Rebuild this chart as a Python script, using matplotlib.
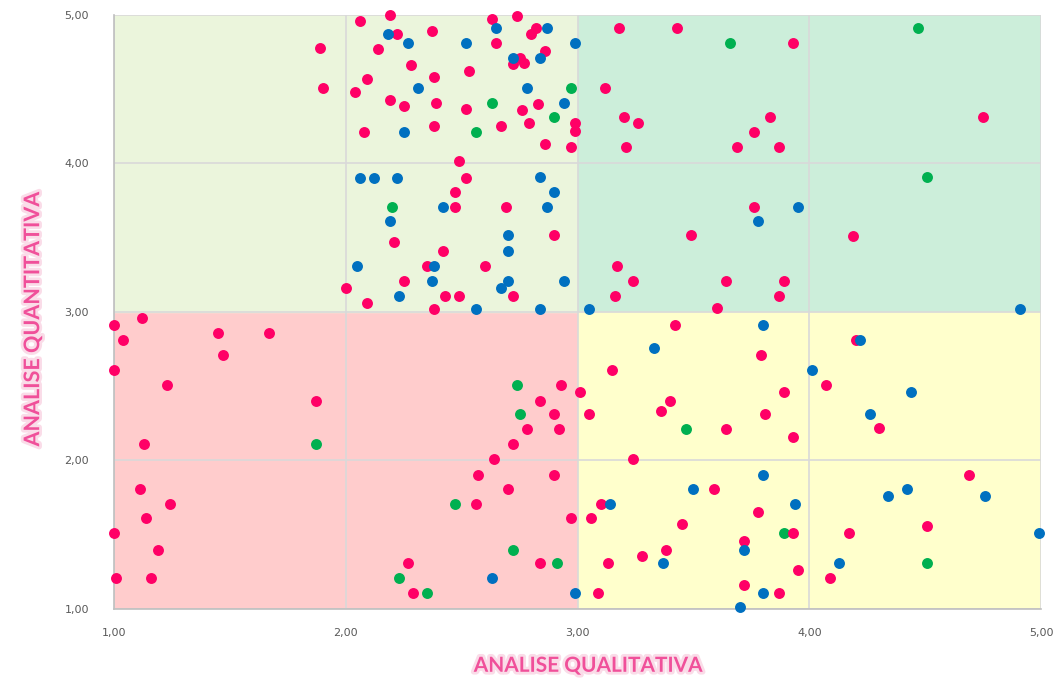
import matplotlib.pyplot as plt
import matplotlib.patheffects as pe
from matplotlib.patches import Rectangle
from matplotlib.ticker import FuncFormatter

pink_x = [1.89, 1.90, 2.06, 2.19, 2.22, 2.14, 2.28, 2.09, 2.04, 2.19, 2.25, 2.08,
          2.21, 2.25, 2.00, 2.09,
          1.00, 1.12, 1.04, 1.45, 1.67, 1.47, 1.00, 1.23, 1.87,
          1.13, 1.11, 1.24, 1.14, 1.00, 1.19, 1.01, 1.16, 2.27, 2.29,
          2.63, 2.74, 2.82, 2.80, 2.37, 2.65, 2.86, 2.75, 2.72, 2.77, 2.38, 2.53, 2.39, 2.52,
          2.76, 2.83, 2.38, 2.67, 2.79, 2.99, 2.99, 2.86, 2.97, 2.49, 2.52, 2.47, 2.47, 2.69,
          3.18, 3.43, 3.12, 3.20, 3.26, 3.21,
          3.93, 4.75, 3.83, 3.76, 3.69, 3.87, 3.76,
          4.19, 3.64, 3.89, 3.87, 3.60, 4.20, 3.79, 4.07, 3.89, 3.81,
          2.90, 2.42, 2.35, 2.60, 2.43, 2.49, 2.72, 2.38, 3.17, 3.24, 3.16, 3.49, 3.42, 3.15,
          2.93, 3.01, 2.84, 3.40, 3.36, 2.90, 3.05,
          2.78, 2.92, 3.64, 2.72, 2.64, 3.24, 2.57, 2.90, 2.70, 3.59, 2.56, 3.10, 2.97, 3.06,
          3.45, 3.28, 3.38, 2.84, 3.13, 3.09,
          4.30, 3.93, 4.69, 3.78, 4.51, 3.93, 4.17, 3.72, 3.95, 4.09, 3.72, 3.87]
pink_y = [4.78, 4.51, 4.96, 5.00, 4.87, 4.77, 4.66, 4.57, 4.48, 4.43, 4.39, 4.21,
          3.47, 3.21, 3.16, 3.06,
          2.91, 2.96, 2.81, 2.86, 2.86, 2.71, 2.61, 2.51, 2.40,
          2.11, 1.81, 1.71, 1.61, 1.51, 1.40, 1.21, 1.21, 1.31, 1.11,
          4.97, 4.99, 4.91, 4.87, 4.89, 4.81, 4.76, 4.71, 4.67, 4.68, 4.58, 4.62, 4.41, 4.37,
          4.36, 4.40, 4.25, 4.25, 4.27, 4.27, 4.22, 4.13, 4.11, 4.02, 3.90, 3.81, 3.71, 3.71,
          4.91, 4.91, 4.51, 4.31, 4.27, 4.11,
          4.81, 4.31, 4.31, 4.21, 4.11, 4.11, 3.71,
          3.51, 3.21, 3.21, 3.11, 3.03, 2.81, 2.71, 2.51, 2.46, 2.31,
          3.52, 3.41, 3.31, 3.31, 3.11, 3.11, 3.11, 3.02, 3.31, 3.21, 3.11, 3.52, 2.91, 2.61,
          2.51, 2.46, 2.40, 2.40, 2.33, 2.31, 2.31,
          2.21, 2.21, 2.21, 2.11, 2.01, 2.01, 1.90, 1.90, 1.81, 1.81, 1.71, 1.71, 1.61, 1.61,
          1.57, 1.36, 1.40, 1.31, 1.31, 1.11,
          2.22, 2.16, 1.90, 1.65, 1.56, 1.51, 1.51, 1.46, 1.26, 1.21, 1.16, 1.11]

blue_x = [2.18, 2.27, 2.31, 2.25, 2.06, 2.12, 2.22, 2.19, 2.05, 2.23,
          2.65, 2.87, 2.52, 2.99, 2.72, 2.84, 2.78, 2.94, 2.84, 2.90, 2.42, 2.87,
          3.95, 3.78, 4.91, 3.80, 4.22, 4.01, 4.44, 4.26,
          2.70, 2.70, 2.38, 2.37, 2.70, 2.94, 2.67, 2.56, 2.84, 3.05, 3.33,
          3.50, 3.14, 3.37, 2.63, 2.99,
          3.80, 4.42, 4.34, 4.76, 3.94, 4.99, 3.72, 4.13, 3.80, 3.70]
blue_y = [4.87, 4.81, 4.51, 4.21, 3.90, 3.90, 3.90, 3.61, 3.31, 3.11,
          4.91, 4.91, 4.81, 4.81, 4.71, 4.71, 4.51, 4.41, 3.91, 3.81, 3.71, 3.71,
          3.71, 3.61, 3.02, 2.91, 2.81, 2.61, 2.46, 2.31,
          3.52, 3.41, 3.31, 3.21, 3.21, 3.21, 3.16, 3.02, 3.02, 3.02, 2.76,
          1.81, 1.71, 1.31, 1.21, 1.11,
          1.90, 1.81, 1.76, 1.76, 1.71, 1.51, 1.40, 1.31, 1.11, 1.01]

green_x = [2.20, 2.97, 2.63, 2.90, 2.56, 3.66, 4.47, 4.51,
           1.87, 2.23, 2.74, 2.75, 3.47, 2.47, 2.72, 2.91, 2.35, 3.89, 4.51]
green_y = [3.71, 4.51, 4.41, 4.31, 4.21, 4.81, 4.91, 3.91,
           2.11, 1.21, 2.51, 2.31, 2.21, 1.71, 1.40, 1.31, 1.11, 1.51, 1.31]

ticks = [1, 2, 3, 4, 5]

fig = plt.figure(figsize=(10.54, 6.91), dpi=100)
ax = fig.add_axes([0.1082, 0.1187, 0.8795, 0.8596])

# quadrants
ax.add_patch(Rectangle((1, 1), 2, 2, color='#FFCCCC', zorder=0))
ax.add_patch(Rectangle((1, 3), 2, 2, color='#EBF5DC', zorder=0))
ax.add_patch(Rectangle((3, 3), 2, 2, color='#CCEEDA', zorder=0))
ax.add_patch(Rectangle((3, 1), 2, 2, color='#FFFFCC', zorder=0))

ax.scatter(green_x, green_y, s=62, color='#00B050', zorder=3, linewidths=0, clip_on=False)
ax.scatter(pink_x, pink_y, s=62, color='#FF0066', zorder=3, linewidths=0, clip_on=False)
ax.scatter(blue_x, blue_y, s=62, color='#0070C0', zorder=3, linewidths=0, clip_on=False)

ax.set_xlim(1, 5)
ax.set_ylim(1, 5)
ax.set_xticks(ticks)
ax.set_yticks(ticks)
fmt = FuncFormatter(lambda v, p: ('%.2f' % v).replace('.', ','))
ax.xaxis.set_major_formatter(fmt)
ax.yaxis.set_major_formatter(fmt)
ax.grid(True, color='#D9D9D9', linewidth=1.2, zorder=1)
ax.set_axisbelow(True)
ax.tick_params(length=0, labelsize=8, labelcolor='#595959', pad=14)
ax.tick_params(axis='y', pad=18)
for s in ['top', 'right']:
    ax.spines[s].set_visible(False)
for s in ['left', 'bottom']:
    ax.spines[s].set_color('#BFBFBF')
    ax.spines[s].set_linewidth(1.2)

glow = [pe.withStroke(linewidth=4, foreground='#FADCE8')]
fig.text(0.558, 0.022, 'ANALISE QUALITATIVA', color='#F0509A', fontsize=15,
         fontweight='bold', family='Lato', ha='center', va='bottom', path_effects=glow)
fig.text(0.031, 0.538, 'ANALISE QUANTITATIVA', color='#F0509A', fontsize=15.5,
         fontweight='bold', family='Lato', ha='center', va='center', rotation=90,
         path_effects=glow)

fig.savefig('out.png', dpi=100)
